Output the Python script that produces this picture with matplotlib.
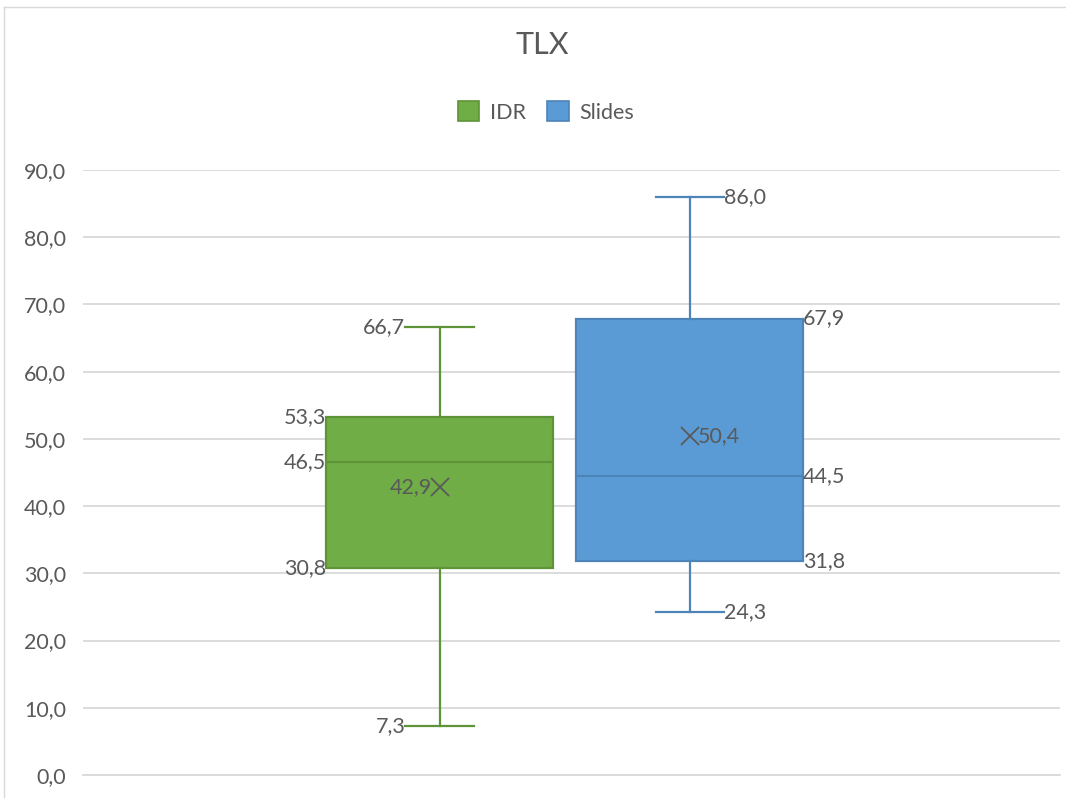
import matplotlib
matplotlib.use("Agg")
import matplotlib.pyplot as plt
from matplotlib.lines import Line2D
from matplotlib.patches import Patch

# ---- data ----
series = ["IDR", "Slides"]
whisker_low = [7.3, 24.3]
q1 = [30.8, 31.8]
median = [46.5, 44.5]
q3 = [53.3, 67.9]
whisker_high = [66.7, 86.0]
mean = [42.9, 50.4]
yticks = [0, 10, 20, 30, 40, 50, 60, 70, 80, 90]

face_colors = ["#70AD47", "#5B9BD5"]
edge_colors = ["#5E9338", "#4D84B9"]
text_color = "#595959"
grid_color = "#D9D9D9"

def fmt(v):
    return f"{v:.1f}".replace(".", ",")

plt.rcParams["font.family"] = ["Lato", "DejaVu Sans"]

W, H = 1066, 798
fig = plt.figure(figsize=(W / 100, H / 100), dpi=100)
ax = fig.add_axes([83 / W, 1 - 775 / H, (1060 - 83) / W, (775 - 170) / H])

positions = [0.365, 0.621]
box_w = 0.232
cap_w = 0.070

stats = []
for i, name in enumerate(series):
    stats.append(dict(label=name, whislo=whisker_low[i], q1=q1[i], med=median[i],
                      q3=q3[i], whishi=whisker_high[i], mean=mean[i], fliers=[]))

for i in range(len(series)):
    ec = edge_colors[i]
    ax.bxp([stats[i]], positions=[positions[i]], widths=box_w, capwidths=cap_w,
           patch_artist=True, showmeans=False, showfliers=False,
           boxprops=dict(facecolor=face_colors[i], edgecolor=ec, linewidth=1.6),
           medianprops=dict(color=ec, linewidth=1.6),
           whiskerprops=dict(color=ec, linewidth=1.6),
           capprops=dict(color=ec, linewidth=1.6),
           manage_ticks=False, zorder=3)
    ax.plot([positions[i]], [mean[i]], marker="x", markersize=13, mew=1.3,
            color=text_color, linestyle="none", zorder=4)

fs = 15.5
# IDR labels (left side)
p = positions[0]
ax.text(p - cap_w / 2, whisker_high[0], fmt(whisker_high[0]), ha="right", va="center", fontsize=fs, color=text_color, zorder=5)
ax.text(p - box_w / 2, q3[0], fmt(q3[0]), ha="right", va="center", fontsize=fs, color=text_color, zorder=5)
ax.text(p - box_w / 2, median[0], fmt(median[0]), ha="right", va="center", fontsize=fs, color=text_color, zorder=5)
ax.text(p - box_w / 2, q1[0], fmt(q1[0]), ha="right", va="center", fontsize=fs, color=text_color, zorder=5)
ax.text(p - cap_w / 2, whisker_low[0], fmt(whisker_low[0]), ha="right", va="center", fontsize=fs, color=text_color, zorder=5)
ax.text(p - 0.008, mean[0], fmt(mean[0]), ha="right", va="center", fontsize=fs, color=text_color, zorder=5)

# Slides labels (right side)
p = positions[1]
ax.text(p + cap_w / 2, whisker_high[1], fmt(whisker_high[1]), ha="left", va="center", fontsize=fs, color=text_color, zorder=5)
ax.text(p + box_w / 2, q3[1], fmt(q3[1]), ha="left", va="center", fontsize=fs, color=text_color, zorder=5)
ax.text(p + box_w / 2, median[1], fmt(median[1]), ha="left", va="center", fontsize=fs, color=text_color, zorder=5)
ax.text(p + box_w / 2, q1[1], fmt(q1[1]), ha="left", va="center", fontsize=fs, color=text_color, zorder=5)
ax.text(p + cap_w / 2, whisker_low[1], fmt(whisker_low[1]), ha="left", va="center", fontsize=fs, color=text_color, zorder=5)
ax.text(p + 0.008, mean[1], fmt(mean[1]), ha="left", va="center", fontsize=fs, color=text_color, zorder=5)

ax.set_xlim(0, 1)
ax.set_ylim(0, 90)
ax.set_yticks(yticks)
ax.set_yticklabels([fmt(v) for v in yticks], fontsize=fs, color=text_color)
ax.set_xticks([])
ax.tick_params(axis="y", length=0, pad=12)
ax.yaxis.grid(True, color=grid_color, linewidth=1.3)
ax.set_axisbelow(True)
for s in ["top", "right", "left"]:
    ax.spines[s].set_visible(False)
ax.spines["bottom"].set_color(grid_color)
ax.spines["bottom"].set_linewidth(1.3)

fig.text(542 / W, 1 - 45 / H, "TLX", ha="center", va="center", fontsize=22, color=text_color)

handles = [Patch(facecolor=face_colors[i], edgecolor=edge_colors[i], linewidth=1.2, label=series[i])
           for i in range(len(series))]
fig.legend(handles=handles, loc="center", bbox_to_anchor=(546 / W, 1 - 112 / H), ncol=2,
           frameon=False, fontsize=15.5, labelcolor=text_color, handlelength=1.0, handleheight=1.0,
           handletextpad=0.5, columnspacing=1.0)

# chart border
fig.add_artist(Line2D([4 / W, 4 / W], [0, 1 - 7 / H], color=grid_color, linewidth=1, transform=fig.transFigure))
fig.add_artist(Line2D([4 / W, 1], [1 - 7 / H, 1 - 7 / H], color=grid_color, linewidth=1, transform=fig.transFigure))

fig.savefig("out.png", dpi=100, facecolor="white")
